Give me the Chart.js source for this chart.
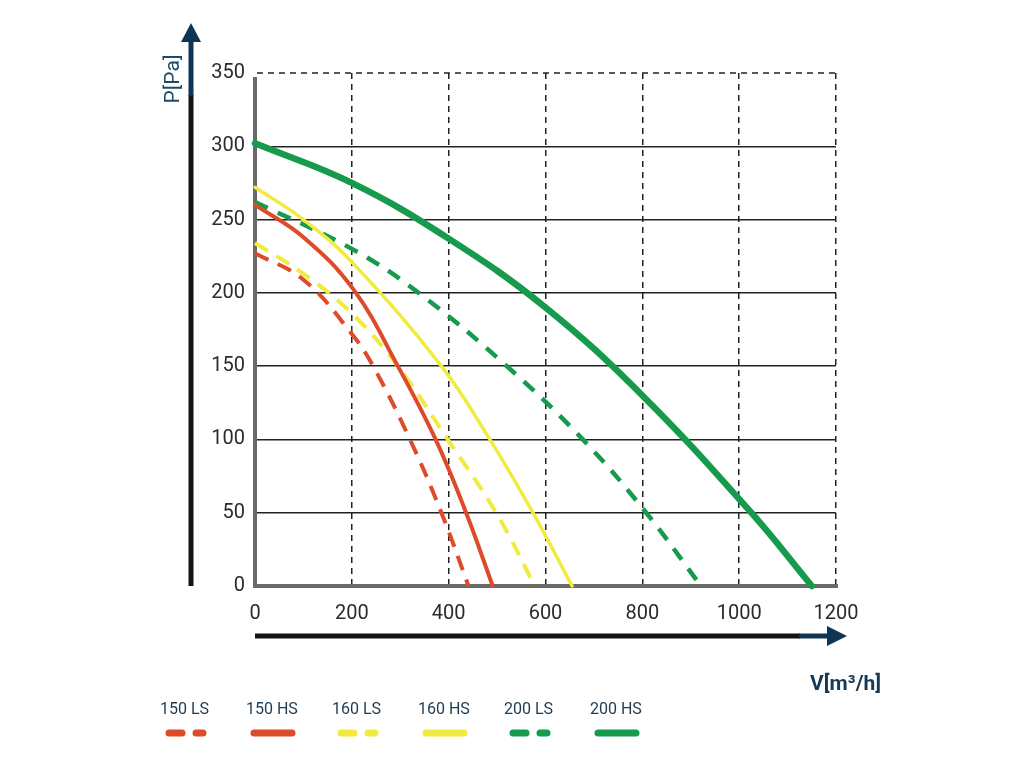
<!DOCTYPE html>
<html>
<head>
<meta charset="utf-8">
<script src="https://cdn.jsdelivr.net/npm/chart.js@4.4.0/dist/chart.umd.min.js"></script>
<style>
html, body { margin: 0; padding: 0; background: #fff; }
#wrap { width: 1024px; height: 768px; }
</style>
</head>
<body>
<div id="wrap"><canvas id="myChart" width="1024" height="768"></canvas></div>
<script>
Chart.defaults.font.family = "Roboto, 'Noto Sans', sans-serif";

// fan curves: V [m3/h] -> P [Pa]
const seriesNames = ['150 LS', '150 HS', '160 LS', '160 HS', '200 LS', '200 HS'];

const flow_150_ls = [0, 100, 200, 244, 320, 385, 441];
const press_150_ls = [227, 209, 172, 150, 100, 50, 0];

const flow_150_hs = [0, 100, 204, 295, 373, 436, 491];
const press_150_hs = [260, 238, 202, 150, 100, 50, 0];

const flow_160_ls = [0, 100, 200, 295, 398, 498, 578];
const press_160_ls = [234, 213, 186, 150, 100, 50, 0];

const flow_160_hs = [0, 100, 200, 385, 485, 574, 655];
const press_160_hs = [272, 250, 221, 150, 100, 50, 0];

const flow_200_ls = [0, 200, 338, 520, 677, 808, 921];
const press_200_ls = [262, 230, 200, 150, 100, 50, 0];

const flow_200_hs = [0, 200, 400, 600, 800, 1025, 1150];
const press_200_hs = [302, 275, 237, 190, 130, 50, 0];

const xTicks = [0, 200, 400, 600, 800, 1000, 1200];
const yTicks = [0, 50, 100, 150, 200, 250, 300, 350];

const RED = '#de4b2b';
const YELLOW = '#f1ea3f';
const GREEN = '#169a4c';
const NAVY = '#0f3554';

function toPoints(xs, ys) {
    return xs.map((x, i) => ({x: x, y: ys[i]}));
}

function curve(label, xs, ys, color, width, dash) {
    return {
        label: label,
        data: toPoints(xs, ys),
        borderColor: color,
        backgroundColor: color,
        borderWidth: width,
        borderDash: dash,
        borderCapStyle: dash.length ? 'butt' : 'round',
        pointRadius: 0,
        fill: false,
        tension: 0.4,
        clip: 6,
    };
}

const decor = {
    id: 'decor',
    beforeDatasetsDraw(chart) {
        const {ctx, chartArea: a} = chart;
        ctx.save();
        // dashed top edge
        ctx.strokeStyle = '#222';
        ctx.lineWidth = 1.5;
        ctx.setLineDash([6, 5]);
        ctx.beginPath();
        ctx.moveTo(a.left + 2, a.top);
        ctx.lineTo(a.right, a.top);
        ctx.stroke();
        // grey axes
        ctx.setLineDash([]);
        ctx.strokeStyle = '#6a6a6a';
        ctx.lineWidth = 4;
        ctx.beginPath();
        ctx.moveTo(a.left, a.top + 4);
        ctx.lineTo(a.left, a.bottom);
        ctx.lineTo(a.right + 2, a.bottom);
        ctx.stroke();
        ctx.restore();
    },
    afterDraw(chart) {
        const {ctx, chartArea: a} = chart;
        ctx.save();
        // vertical arrow
        const ax = a.left - 64;
        ctx.lineWidth = 5;
        ctx.strokeStyle = '#141414';
        ctx.beginPath(); ctx.moveTo(ax, a.bottom); ctx.lineTo(ax, 95); ctx.stroke();
        ctx.strokeStyle = NAVY;
        ctx.beginPath(); ctx.moveTo(ax, 96); ctx.lineTo(ax, 40); ctx.stroke();
        ctx.fillStyle = NAVY;
        ctx.beginPath(); ctx.moveTo(ax, 23); ctx.lineTo(ax + 10, 42); ctx.lineTo(ax - 10, 42); ctx.closePath(); ctx.fill();
        // horizontal arrow
        const ay = a.bottom + 50;
        ctx.strokeStyle = '#141414';
        ctx.beginPath(); ctx.moveTo(a.left, ay); ctx.lineTo(800, ay); ctx.stroke();
        ctx.strokeStyle = NAVY;
        ctx.beginPath(); ctx.moveTo(799, ay); ctx.lineTo(830, ay); ctx.stroke();
        ctx.beginPath(); ctx.moveTo(847, ay); ctx.lineTo(827, ay - 10); ctx.lineTo(827, ay + 10); ctx.closePath(); ctx.fill();

        // axis titles
        ctx.fillStyle = '#1f4a66';
        ctx.font = "21px Roboto, sans-serif";
        ctx.textAlign = 'center';
        ctx.textBaseline = 'middle';
        ctx.save();
        ctx.translate(174, 79);
        ctx.rotate(-Math.PI / 2);
        ctx.fillText('P[Pa]', 0, 0);
        ctx.restore();
        ctx.fillStyle = '#163a55';
        ctx.font = "bold 21px Roboto, sans-serif";
        ctx.textAlign = 'right';
        ctx.fillText('V[m\u00B3/h]', 881, 685);

        // legend: label above a line sample
        chart.data.datasets.forEach((ds, i) => {
            const left = 160 + i * 86;
            ctx.fillStyle = '#1d3a50';
            ctx.font = "16px Roboto, sans-serif";
            ctx.textAlign = 'left';
            ctx.fillText(ds.label, left, 710);
            ctx.strokeStyle = ds.borderColor;
            ctx.lineWidth = 7;
            ctx.lineCap = 'round';
            ctx.beginPath();
            if (ds.borderDash.length) {
                ctx.moveTo(left + 9, 733); ctx.lineTo(left + 22, 733);
                ctx.moveTo(left + 36, 733); ctx.lineTo(left + 43, 733);
            } else {
                ctx.moveTo(left + 8, 733); ctx.lineTo(left + 46, 733);
            }
            ctx.stroke();
        });
        ctx.restore();
    }
};

const ctx = document.getElementById('myChart');
const chart = new Chart(ctx, {
    type: 'line',
    data: {
        datasets: [
            curve(seriesNames[0], flow_150_ls, press_150_ls, RED, 4, [15, 10]),
            curve(seriesNames[1], flow_150_hs, press_150_hs, RED, 4, []),
            curve(seriesNames[2], flow_160_ls, press_160_ls, YELLOW, 4, [15, 10]),
            curve(seriesNames[3], flow_160_hs, press_160_hs, YELLOW, 3.5, []),
            curve(seriesNames[4], flow_200_ls, press_200_ls, GREEN, 4.5, [14, 11]),
            curve(seriesNames[5], flow_200_hs, press_200_hs, GREEN, 6.5, []),
        ]
    },
    options: {
        responsive: false,
        animation: false,
        devicePixelRatio: 1,
        layout: {padding: {top: 73, right: 188, bottom: 0, left: 0}},
        plugins: {
            legend: {display: false},
            tooltip: {enabled: false},
        },
        scales: {
            x: {
                type: 'linear',
                min: 0,
                max: 1200,
                afterBuildTicks: s => { s.ticks = xTicks.map(v => ({value: v})); },
                afterFit: s => { s.height = 182; },
                grid: {
                    color: c => (c.tick && c.tick.value === 0) ? 'rgba(0,0,0,0)' : '#222',
                    lineWidth: 1.5,
                    drawTicks: false,
                },
                border: {display: false, dash: [6, 5]},
                ticks: {
                    padding: 16, color: '#2b2b2b', font: {size: 20}, maxRotation: 0,
                    callback: v => String(v),
                },
            },
            y: {
                type: 'linear',
                min: 0,
                max: 350,
                afterBuildTicks: s => { s.ticks = yTicks.map(v => ({value: v})); },
                afterFit: s => { s.width = 255; },
                grid: {
                    color: c => (c.tick && (c.tick.value === 0 || c.tick.value === 350)) ? 'rgba(0,0,0,0)' : '#222',
                    lineWidth: 1.5,
                    drawTicks: false,
                },
                border: {display: false},
                ticks: {padding: 10, color: '#2b2b2b', font: {size: 20}, callback: v => String(v)},
            }
        }
    },
    plugins: [decor]
});
</script>
</body>
</html>
